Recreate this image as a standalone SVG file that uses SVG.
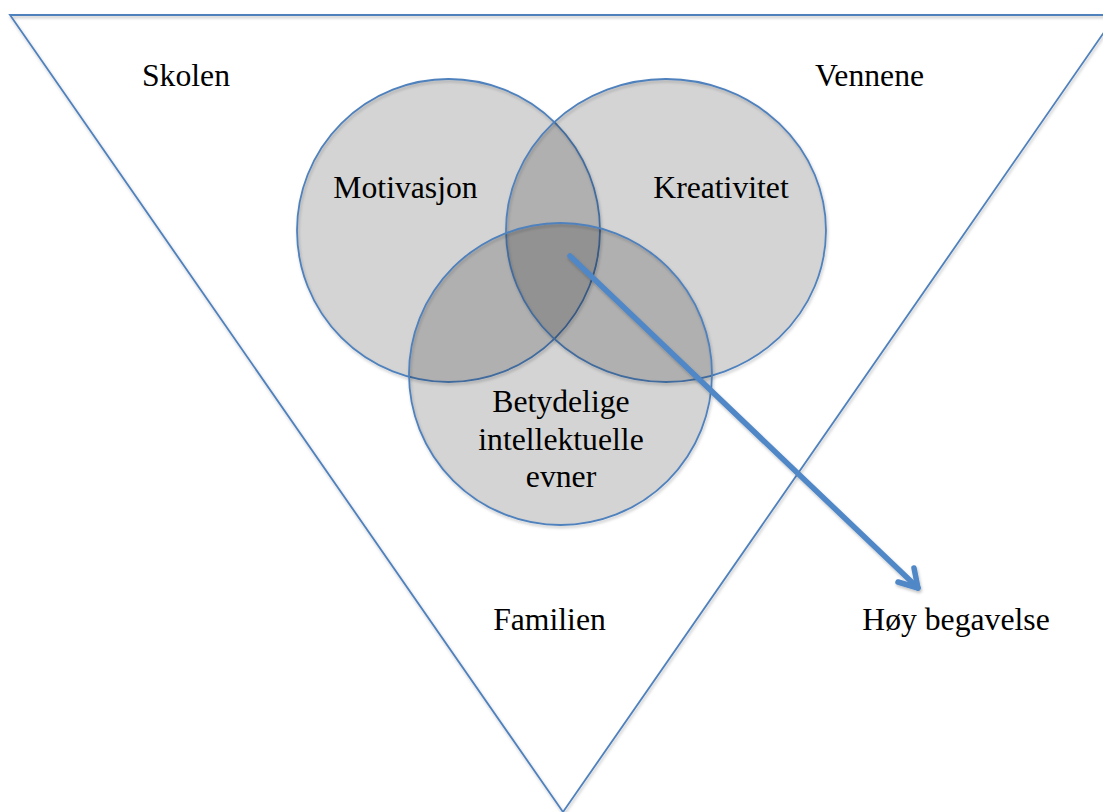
<svg xmlns="http://www.w3.org/2000/svg" width="1103" height="812" viewBox="0 0 1103 812">
  <style>
    .lbl { font-family: "Liberation Serif", "Times New Roman", serif; font-size: 31.7px; fill: #000; }
    .c { fill: #000; fill-opacity: 0.137; stroke: #4f81bd; stroke-width: 1.8; }
    .tri { fill: none; stroke: #4f81bd; stroke-width: 1.8; }
    .arr { fill: none; stroke: #5087c7; stroke-width: 5.5; stroke-linecap: round; stroke-linejoin: round; }
  </style>
  <defs>
    <filter id="sh" x="-10%" y="-10%" width="120%" height="120%">
      <feDropShadow dx="1" dy="2" stdDeviation="1.5" flood-color="#000" flood-opacity="0.25"/>
    </filter>
  </defs>
  <rect width="1103" height="812" fill="#fff"/>
  <g id="triangle" filter="url(#sh)">
    <polygon class="tri" points="10,15 1116,15 563,812"/>
  </g>
  <g id="motivasjon" filter="url(#sh)">
    <ellipse class="c" cx="448.5" cy="230.5" rx="151.5" ry="151.5"/>
  </g>
  <g id="kreativitet" filter="url(#sh)">
    <ellipse class="c" cx="666" cy="230.5" rx="160" ry="151.5"/>
  </g>
  <g id="evner" filter="url(#sh)">
    <ellipse class="c" cx="560.5" cy="374" rx="151.5" ry="151"/>
  </g>
  <g id="connectors" filter="url(#sh)">
    <path class="arr" d="M570,256 L918,588"/>
    <path class="arr" d="M898,582 L918,588 L914,568"/>
  </g>
  <g id="labels">
    <text class="lbl" x="142" y="86">Skolen</text>
    <text class="lbl" x="815" y="86">Vennene</text>
    <text class="lbl" x="405.5" y="198" text-anchor="middle">Motivasjon</text>
    <text class="lbl" x="721" y="198" text-anchor="middle">Kreativitet</text>
    <text class="lbl" x="561" y="412" text-anchor="middle">Betydelige</text>
    <text class="lbl" x="561" y="450" text-anchor="middle">intellektuelle</text>
    <text class="lbl" x="561" y="487" text-anchor="middle">evner</text>
    <text class="lbl" x="549.5" y="630" text-anchor="middle">Familien</text>
    <text class="lbl" x="956" y="630" text-anchor="middle">Høy begavelse</text>
  </g>
</svg>
